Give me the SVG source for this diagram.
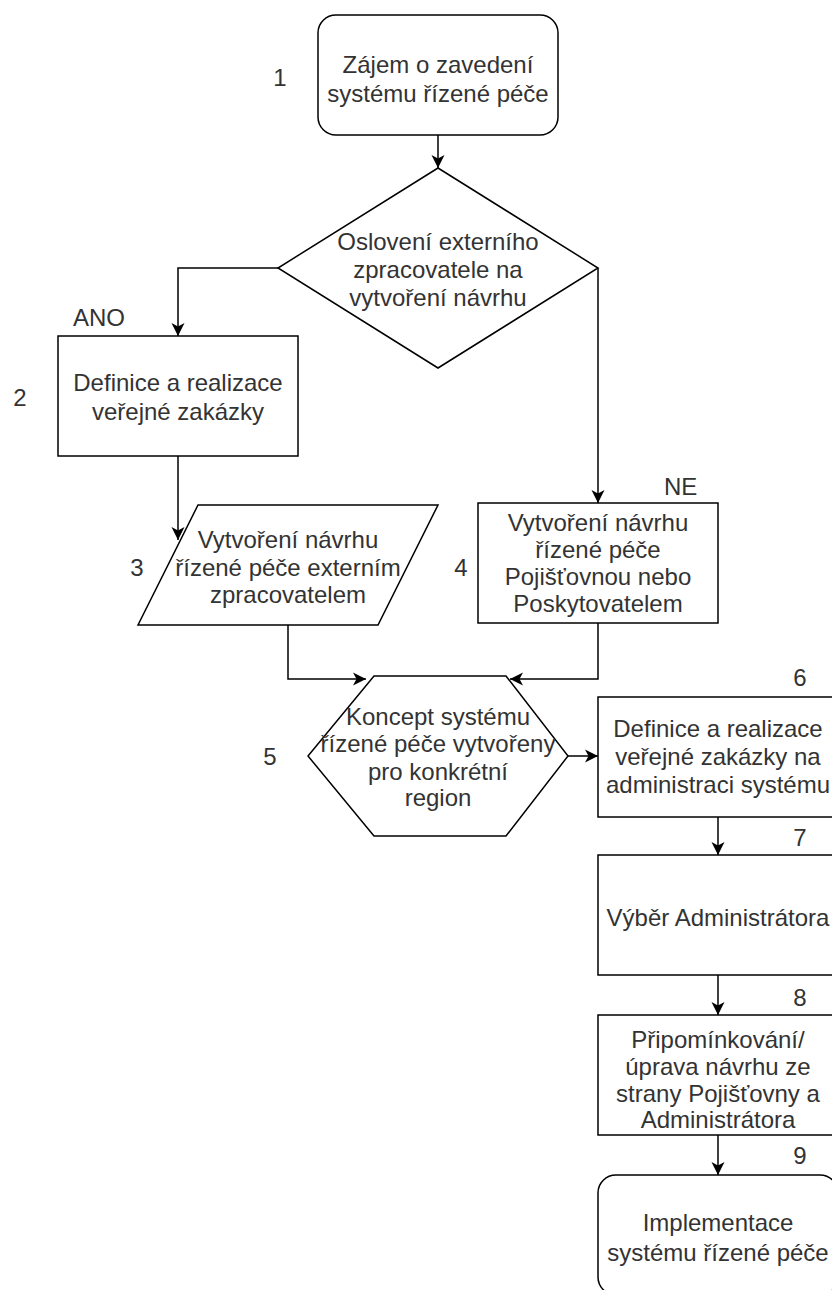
<svg xmlns="http://www.w3.org/2000/svg" width="832" height="1290" viewBox="0 0 832 1290">
  <defs>
    <marker id="arrow" markerUnits="userSpaceOnUse" markerWidth="14" markerHeight="14" refX="13" refY="7" orient="auto">
      <path d="M0,0.5 L13,7 L0,13.5 L3.5,7 Z" fill="#000"/>
    </marker>
    <style>
      .shape { fill: #fff; stroke: #000; stroke-width: 1.5; }
      .edge { fill: none; stroke: #000; stroke-width: 1.5; marker-end: url(#arrow); }
      text { font-family: "Liberation Sans", Arial, Helvetica, sans-serif; font-size: 24px; fill: #333; }
      .c { text-anchor: middle; }
    </style>
  </defs>
  <rect width="832" height="1290" fill="#fff"/>

  <!-- connectors -->
  <g id="connectors">
    <path class="edge" d="M438,135 V168"/>
    <path class="edge" d="M278,268 H178 V336"/>
    <path class="edge" d="M178,456 V540"/>
    <path class="edge" d="M598,268 V503"/>
    <path class="edge" d="M288,625 V679 H366"/>
    <path class="edge" d="M598,623 V679 H510"/>
    <path class="edge" d="M568,756 H598"/>
    <path class="edge" d="M718,817 V855"/>
    <path class="edge" d="M718,975 V1015"/>
    <path class="edge" d="M718,1135 V1175"/>
  </g>

  <!-- step 1: start -->
  <g id="node1">
    <rect class="shape" x="318" y="15" width="240" height="120" rx="18"/>
    <text class="c" x="438" y="73">Zájem o zavedení</text>
    <text class="c" x="438" y="102">systému řízené péče</text>
    <text x="280" y="86" class="c">1</text>
  </g>

  <!-- decision -->
  <g id="decision">
    <polygon class="shape" points="438,168 598,268 438,368 278,268"/>
    <text class="c" x="438" y="250">Oslovení externího</text>
    <text class="c" x="438" y="278">zpracovatele na</text>
    <text class="c" x="438" y="306">vytvoření návrhu</text>
  </g>

  <g id="label-ano"><text x="73" y="326">ANO</text></g>
  <g id="label-ne"><text x="664" y="495">NE</text></g>

  <!-- step 2 -->
  <g id="node2">
    <rect class="shape" x="58" y="336" width="240" height="120"/>
    <text class="c" x="178" y="391">Definice a realizace</text>
    <text class="c" x="178" y="420">veřejné zakázky</text>
    <text class="c" x="20" y="406">2</text>
  </g>

  <!-- step 3 -->
  <g id="node3">
    <polygon class="shape" points="198,505 438,505 378,625 138,625"/>
    <text class="c" x="288" y="548">Vytvoření návrhu</text>
    <text class="c" x="288" y="576">řízené péče externím</text>
    <text class="c" x="288" y="603">zpracovatelem</text>
    <text class="c" x="137" y="576">3</text>
  </g>

  <!-- step 4 -->
  <g id="node4">
    <rect class="shape" x="478" y="503" width="240" height="120"/>
    <text class="c" x="598" y="531">Vytvoření návrhu</text>
    <text class="c" x="598" y="558">řízené péče</text>
    <text class="c" x="598" y="585">Pojišťovnou nebo</text>
    <text class="c" x="598" y="612">Poskytovatelem</text>
    <text class="c" x="461" y="576">4</text>
  </g>

  <!-- step 5 -->
  <g id="node5">
    <polygon class="shape" points="374,676 506,676 568,756 506,836 374,836 308,756"/>
    <text class="c" x="438" y="725">Koncept systému</text>
    <text class="c" x="438" y="752">řízené péče vytvořeny</text>
    <text class="c" x="438" y="780">pro konkrétní</text>
    <text class="c" x="438" y="806">region</text>
    <text class="c" x="270" y="765">5</text>
  </g>

  <!-- step 6 -->
  <g id="node6">
    <rect class="shape" x="598" y="697" width="240" height="120"/>
    <text class="c" x="718" y="737">Definice a realizace</text>
    <text class="c" x="718" y="765">veřejné zakázky na</text>
    <text class="c" x="718" y="793">administraci systému</text>
    <text class="c" x="800" y="686">6</text>
  </g>

  <!-- step 7 -->
  <g id="node7">
    <rect class="shape" x="598" y="855" width="240" height="120"/>
    <text class="c" x="718" y="926">Výběr Administrátora</text>
    <text class="c" x="800" y="846">7</text>
  </g>

  <!-- step 8 -->
  <g id="node8">
    <rect class="shape" x="598" y="1015" width="240" height="120"/>
    <text class="c" x="718" y="1048">Připomínkování/</text>
    <text class="c" x="718" y="1075">úprava návrhu ze</text>
    <text class="c" x="718" y="1102">strany Pojišťovny a</text>
    <text class="c" x="718" y="1128">Administrátora</text>
    <text class="c" x="800" y="1006">8</text>
  </g>

  <!-- step 9: end -->
  <g id="node9">
    <rect class="shape" x="598" y="1175" width="240" height="120" rx="18"/>
    <text class="c" x="718" y="1231">Implementace</text>
    <text class="c" x="718" y="1261">systému řízené péče</text>
    <text class="c" x="800" y="1164">9</text>
  </g>
</svg>
